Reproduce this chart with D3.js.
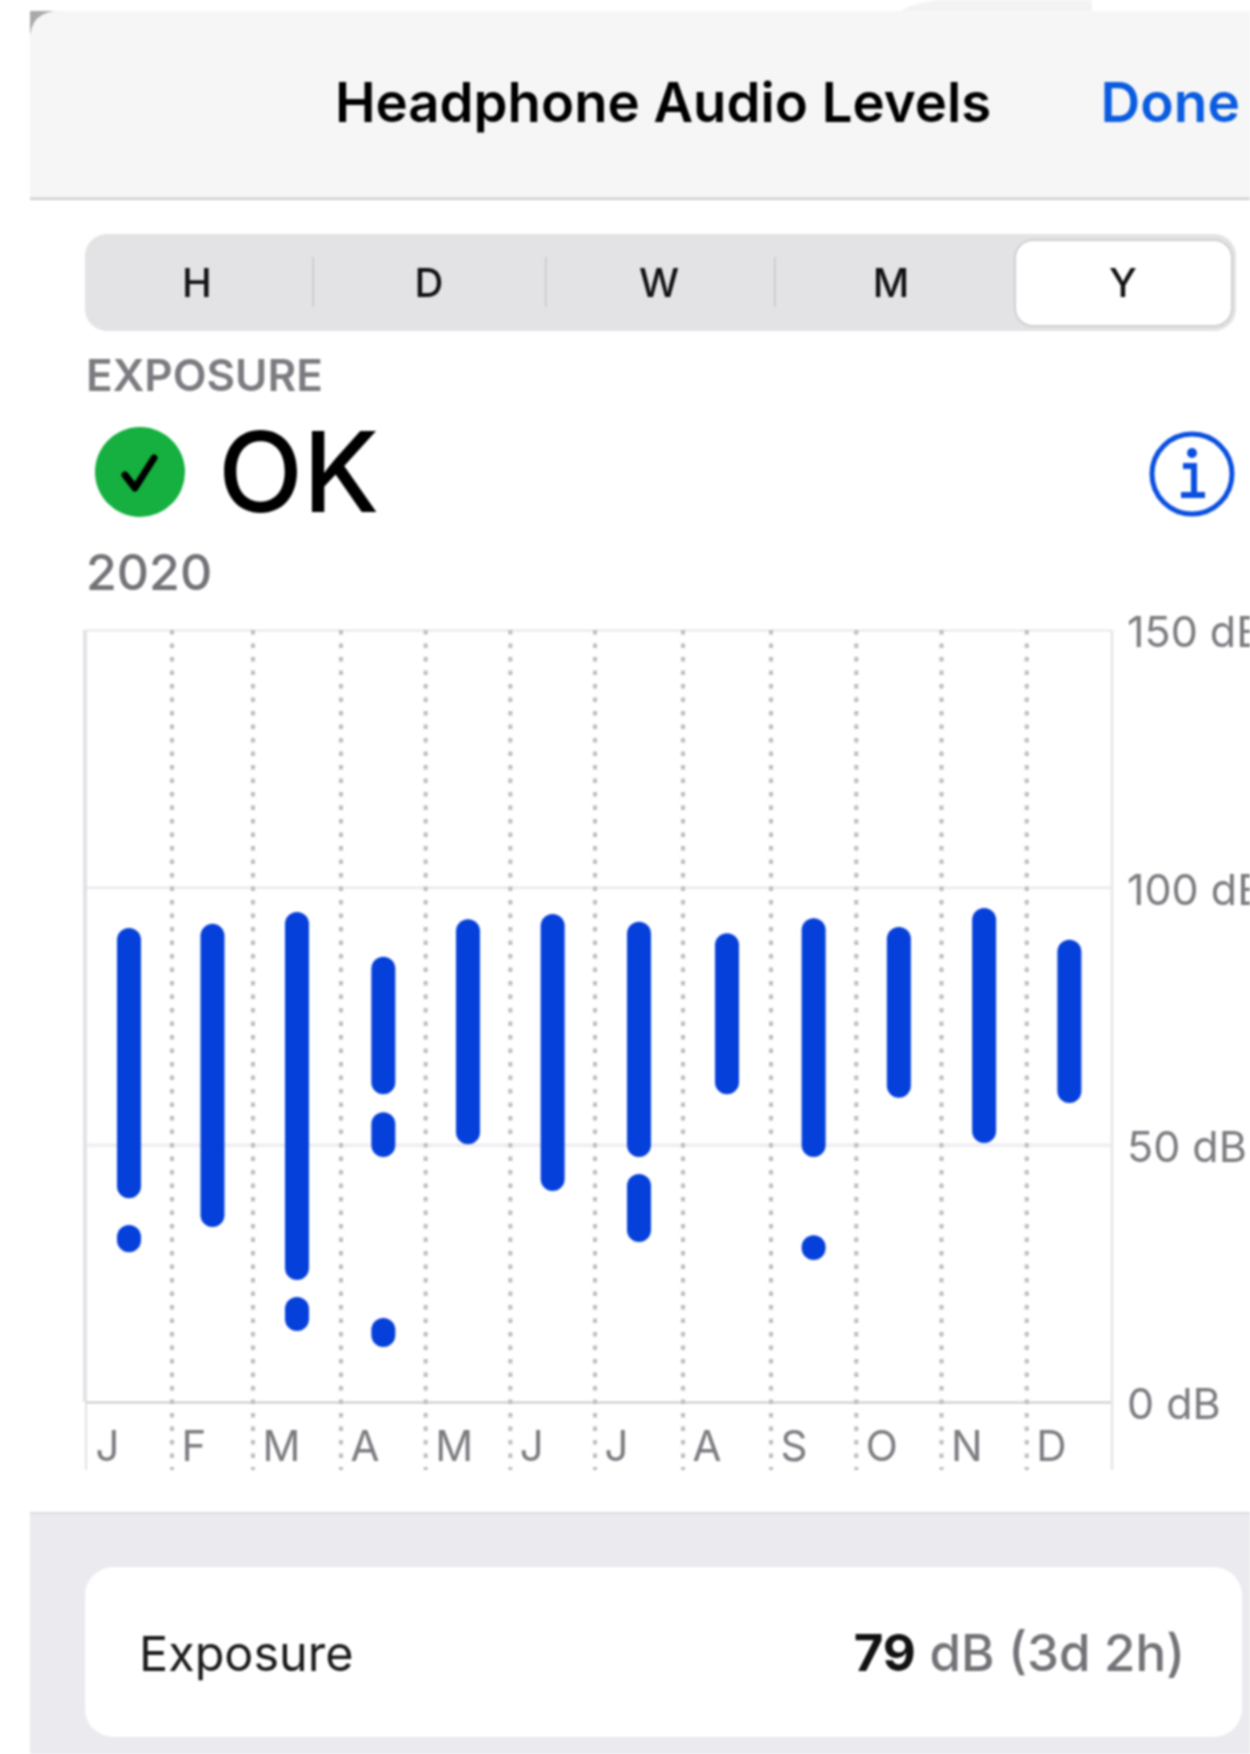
<!DOCTYPE html>
<html><head><meta charset="utf-8">
<script src="https://cdn.jsdelivr.net/npm/d3@7"></script>
<style>
html,body{margin:0;padding:0;background:#fff;overflow:hidden}
svg{display:block;filter:blur(1px)}
text{font-family:Inter,"Noto Sans",sans-serif}
</style></head><body>
<svg id="c" width="1250" height="1754"></svg>
<script>
const months=["J","F","M","A","M","J","J","A","S","O","N","D"];
const yTicks=[0,50,100,150];
const segments=["H","D","W","M","Y"];
// each entry is one continuous range: month index, high dB, low dB
const segMonth=[0,0,1,2,2,3,3,3,4,5,6,6,7,8,8,9,10,11];
const segHigh=[92.1,34.4,92.9,95.2,20.4,86.5,56.3,16.3,93.8,94.8,93.3,44.3,91.1,94.0,32.4,92.3,96.0,89.8];
const segLow=[39.6,29.1,34.0,23.7,13.8,59.8,47.6,10.7,50.1,41.0,47.6,31.1,59.8,47.6,27.6,59.1,50.3,58.1];

const svg=d3.select("#c");
const blue="#0540db", grayText="#7b7b80";
const txt=(x,y,s,o={})=>svg.append("text").attr("x",x).attr("y",y).text(s)
  .attr("font-size",o.size||40).attr("font-weight",o.weight||400).attr("fill",o.fill||"#000").attr("text-anchor",o.anchor||"start");

// sheet
svg.append("path").attr("d","M900 11Q930 -6 1000 0H1092V11Z").attr("fill","#f3f3f3");
svg.append("rect").attr("x",30).attr("y",11).attr("width",34).attr("height",34).attr("fill","#a9a9ab");
svg.append("path").attr("d","M30 1754V41Q30 11 60 11H1250V1754Z").attr("fill","#fff");
svg.append("path").attr("d","M30 199V41Q30 11 60 11H1250V199Z").attr("fill","#f6f6f6");
svg.append("rect").attr("x",30).attr("y",197.5).attr("width",1220).attr("height",2.5).attr("fill","#d0d0d2");
svg.append("rect").attr("x",30).attr("y",1512).attr("width",1220).attr("height",242).attr("fill","#eaeaef");
svg.append("rect").attr("x",30).attr("y",1512).attr("width",1220).attr("height",2).attr("fill","#dcdce0");
txt(663,122,"Headphone Audio Levels",{size:54.5,weight:600,anchor:"middle"});
txt(1240,122,"Done",{size:55,weight:600,fill:"#0a5ce0",anchor:"end"});

// segmented control
svg.append("rect").attr("x",85).attr("y",234).attr("width",1151).attr("height",97).attr("rx",22).attr("fill","#e3e3e6");
svg.append("rect").attr("x",1015).attr("y",240).attr("width",217).attr("height",86).attr("rx",18).attr("fill","#fff").attr("stroke","#cfcfd2").attr("stroke-width",2);
[312.5,545,774].forEach(x=>svg.append("rect").attr("x",x).attr("y",257).attr("width",1.5).attr("height",50).attr("fill","#c8c8cc"));
[197,429,659,891,1123].forEach((x,i)=>txt(x,297,segments[i],{size:40,weight:500,anchor:"middle",fill:"#111"}));

txt(86,391,"EXPOSURE",{size:44,weight:600,fill:grayText});
svg.append("circle").attr("cx",140).attr("cy",472).attr("r",45).attr("fill","#15b03f");
svg.append("path").attr("d","M125 475L135 488L154 458").attr("fill","none").attr("stroke","#000").attr("stroke-width",7).attr("stroke-linecap","round").attr("stroke-linejoin","round");
txt(218,512,"OK",{size:111,weight:500});
txt(86,590,"2020",{size:50,weight:500,fill:"#727277"});
// info icon
svg.append("circle").attr("cx",1192).attr("cy",474).attr("r",40).attr("fill","none").attr("stroke","#0a4fe0").attr("stroke-width",5);
svg.append("circle").attr("cx",1192).attr("cy",453).attr("r",5).attr("fill","#0a4fe0");
svg.append("path").attr("d","M1183 466H1194V495M1181 495H1205").attr("fill","none").attr("stroke","#0a4fe0").attr("stroke-width",6);

// chart
const x=d3.scaleLinear().domain([0,1,2,3,6,7,8,12]).range([86,172,253,341,595,683,771,1112]);
const y=d3.scaleLinear().domain([0,150]).range([1402,630]);
const axisEnd=1470;

// horizontal gridlines
const gridStyles={0:["#c9c9cc",2],50:["#f0f0f3",4],100:["#e6e6e8",2],150:["#e8e8ea",2]};
const gy=svg.append("g").attr("transform","translate(1112,0)")
  .call(d3.axisLeft(y).tickValues(yTicks).tickSize(1026).tickFormat(""));
gy.select(".domain").remove();
gy.selectAll(".tick line").attr("stroke",d=>gridStyles[d][0]).attr("stroke-width",d=>gridStyles[d][1]);

// vertical frame
svg.append("line").attr("x1",x(0)-1).attr("x2",x(0)-1).attr("y1",y(150)).attr("y2",y(0)).attr("stroke","#e2e2e6").attr("stroke-width",4);
svg.append("line").attr("x1",x(0)).attr("x2",x(0)).attr("y1",y(0)).attr("y2",axisEnd).attr("stroke","#d8d8db").attr("stroke-width",1.5);
svg.append("line").attr("x1",x(12)).attr("x2",x(12)).attr("y1",y(150)).attr("y2",axisEnd).attr("stroke","#e6e6ea").attr("stroke-width",2.5);

// dotted month separators
svg.append("g").selectAll("line").data(d3.range(1,12)).join("line")
  .attr("x1",d=>x(d)).attr("x2",d=>x(d)).attr("y1",y(150)).attr("y2",axisEnd)
  .attr("stroke","#bcbcbf").attr("stroke-width",4).attr("stroke-dasharray","4.5 9");

// ranges
svg.append("g").selectAll("rect").data(segMonth.map((m,i)=>({m,hi:segHigh[i],lo:segLow[i]}))).join("rect")
  .attr("x",d=>x(d.m+0.5)-12).attr("width",24)
  .attr("y",d=>y(d.hi)).attr("height",d=>y(d.lo)-y(d.hi))
  .attr("rx",12).attr("fill",blue);

// y axis labels
const ay=svg.append("g").attr("transform","translate(1112,0)")
  .call(d3.axisRight(y).tickValues(yTicks).tickSize(0).tickPadding(15).tickFormat(d=>d+" dB"));
ay.select(".domain").remove();
ay.selectAll("text").attr("font-size",43).attr("fill",grayText).attr("font-family","Inter").attr("dy","0.39em");

// month labels
const ax=svg.append("g").attr("transform","translate(0,1461)")
  .call(d3.axisBottom(x).tickValues(d3.range(12)).tickSize(0).tickPadding(0).tickFormat(d=>months[d]));
ax.select(".domain").remove();
ax.selectAll("text").attr("text-anchor","start").attr("dx",9).attr("dy",0).attr("y",0)
  .attr("font-size",42).attr("fill",grayText).attr("font-family","Inter");

// summary card
svg.append("rect").attr("x",85).attr("y",1567).attr("width",1157).attr("height",170).attr("rx",28).attr("fill","#fff");
txt(139,1671,"Exposure",{size:48.5,fill:"#1a1a1a"});
const t=svg.append("text").attr("x",1185).attr("y",1671).attr("text-anchor","end").attr("font-size",51).attr("fill","#727277");
t.append("tspan").attr("font-weight",700).attr("fill","#111").text("79");
t.append("tspan").attr("font-weight",500).text(" dB (3d 2h)");
</script></body></html>
